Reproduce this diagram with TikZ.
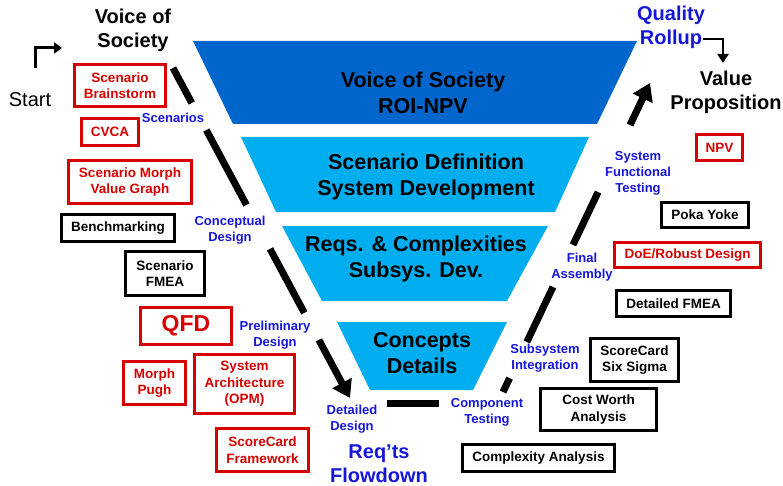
\documentclass[tikz,border=0pt]{standalone}
\usepackage{fontspec}
\setmainfont{Liberation Sans}
\usetikzlibrary{arrows.meta,calc}

\definecolor{vosblue}{RGB}{0,102,204}
\definecolor{stageblue}{RGB}{0,174,239}
\definecolor{boxred}{RGB}{214,0,0}
\definecolor{labelblue}{RGB}{22,22,218}

\begin{document}
\begin{tikzpicture}[x=1pt,y=-1pt,every text node part/.style={align=center},font=\bfseries]
		\useasboundingbox (0,0) rectangle (783,486);
		\tikzstyle{rbox}=[rectangle,draw=boxred,line width=2.9pt,fill=white,
                  text=boxred,font=\fontsize{13.5}{16.5}\selectfont\bfseries,inner sep=1pt]
		\tikzstyle{kbox}=[rbox,draw=black,text=black]
		\tikzstyle{phase}=[text=labelblue,font=\fontsize{13}{16}\selectfont\bfseries,inner sep=0pt]
		\tikzstyle{big}=[font=\fontsize{20}{24}\selectfont\bfseries,inner sep=0pt]
		\tikzstyle{stage}=[font=\fontsize{21.5}{26}\selectfont\bfseries,inner sep=0pt]
		\tikzstyle{flow}=[line width=7pt]

        % stages
    	\foreach \name/\yt/\yb/\xtl/\xtr/\xbl/\xbr/\col in {sA/41/124/193/637/233/597/vosblue,
    	    sB/137/212/241/589/276/555/stageblue, sC/226/301/282/548/322/507/stageblue,
    	    sD/322/390/337/507/370/473/stageblue}
       		\fill[\col] (\xtl,\yt) -- (\xtr,\yt) -- (\xbr,\yb) -- (\xbl,\yb) -- cycle;

    	\foreach \name/\x/\y/\txt in {tA/423/92.5/{Voice of Society\\ROI-NPV},
    	    tB/426/177/{Scenario Definition\\System Development},
    	    tC/416/258.5/{Reqs. \& Complexities\\Subsys. Dev.},
    	    tD/422/353.5/{Concepts\\Details}}
       		\node[stage] (\name) at (\x,\y) {\txt};

        % ends
        \node[big] (vos) at (133,30) {Voice of\\Society};
        \node[big,font=\fontsize{20}{24}\selectfont\mdseries] (start) at (30,100) {Start};
        \node[big,text=labelblue] (rollup) at (671,27) {Quality\\Rollup};
        \node[big] (value) at (726,92) {Value\\Proposition};
        \node[big,text=labelblue] (flowdown) at (379,464) {Req’ts\\Flowdown};

        % phases
     	\foreach \name/\x/\y/\txt in {scen/173/118/Scenarios, concd/230/230/{Conceptual\\Design},
     	    prelim/275/335/{Preliminary\\Design}, detd/352/419/{Detailed\\Design},
     	    comp/487/412.5/{Component\\Testing}, subsys/545/358/{Subsystem\\Integration},
     	    final/582/267.5/{Final\\Assembly}, systest/638/173/{System\\Functional\\Testing}}
       		\node[phase] (\name) at (\x,\y) {\txt};

        % tools
        \node[rbox,minimum width=91pt,minimum height=42pt] (brain) at (120,85.5) {Scenario\\Brainstorm};
        \node[rbox,minimum width=57pt,minimum height=27pt] (cvca) at (110,132) {CVCA};
        \node[rbox,minimum width=123pt,minimum height=43pt] (smorph) at (130,182) {Scenario Morph\\Value Graph};
        \node[kbox,minimum width=113pt,minimum height=27pt] (bench) at (118,228) {Benchmarking};
        \node[kbox,minimum width=79pt,minimum height=44pt] (sfmea) at (165,273.5) {Scenario\\FMEA};
        \node[rbox,minimum width=91pt,minimum height=37pt,font=\fontsize{23}{26}\selectfont\bfseries] (qfd) at (186,326) {QFD};
        \node[rbox,minimum width=62pt,minimum height=43pt] (morph) at (154.5,383) {Morph\\Pugh};
        \node[rbox,minimum width=100pt,minimum height=59pt] (sysarch) at (244.5,384) {System\\Architecture\\(OPM)};
        \node[rbox,minimum width=92pt,minimum height=43pt] (scfw) at (262.5,450) {ScoreCard\\Framework};

        \node[rbox,minimum width=46pt,minimum height=26pt] (npv) at (719.5,147.5) {NPV};
        \node[kbox,minimum width=87pt,minimum height=25pt] (poka) at (705,215) {Poka Yoke};
        \node[rbox,minimum width=146pt,minimum height=25pt] (doe) at (687.5,255) {DoE/Robust Design};
        \node[kbox,minimum width=114pt,minimum height=26pt] (dfmea) at (673.5,303.5) {Detailed FMEA};
        \node[kbox,minimum width=88pt,minimum height=43pt] (sixsig) at (634.5,360) {ScoreCard\\Six Sigma};
        \node[kbox,minimum width=116pt,minimum height=42pt] (cwa) at (598.5,409.5) {Cost Worth\\Analysis};
        \node[kbox,minimum width=152pt,minimum height=27pt] (cplx) at (538.5,458) {Complexity Analysis};

        % edges
        \coordinate (st0) at (35,68);
        \coordinate (st1) at (62,48);
        \draw[line width=3pt,-{Triangle[length=8pt,width=11pt]}] (st0) |- (st1);
        \coordinate (ru0) at (703,39);
        \coordinate (ru1) at (723,63);
        \draw[line width=2.2pt,-{Triangle[length=9pt,width=11pt]}] (ru0) -| (ru1);

        \coordinate (ls) at (173,68);
        \coordinate (le) at (350,398);
        \foreach \a/\b in {0/0.106, 0.188/0.415, 0.548/0.742}
            \draw[flow] ($(ls)!\a!(le)$) -- ($(ls)!\b!(le)$);
        \draw[flow,-{Triangle[length=17pt,width=21pt]}] ($(ls)!0.824!(le)$) -- (le);

        \coordinate (bl0) at (387,403);
        \coordinate (bl1) at (439,403);
        \draw[line width=7pt] (bl0) -- (bl1);

        \coordinate (rs) at (503,392);
        \coordinate (re) at (650,83);
        \foreach \a/\b in {0/0.045, 0.162/0.34, 0.476/0.647}
            \draw[flow] ($(rs)!\a!(re)$) -- ($(rs)!\b!(re)$);
        \draw[flow,-{Triangle[length=17pt,width=21pt]}] ($(rs)!0.864!(re)$) -- (re);

	\end{tikzpicture}
\end{document}
